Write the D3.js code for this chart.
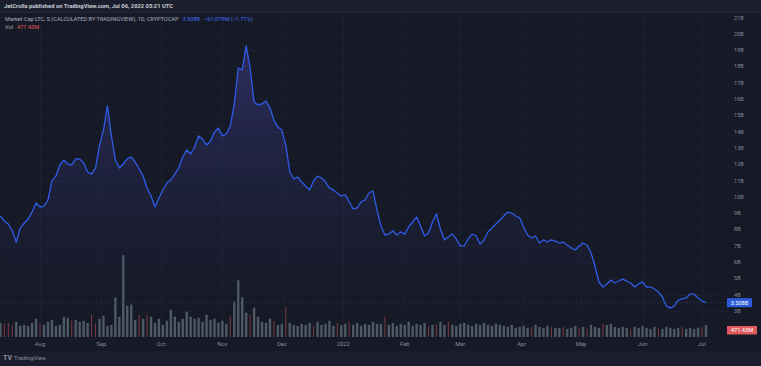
<!DOCTYPE html>
<html><head><meta charset="utf-8">
<script src="https://cdn.jsdelivr.net/npm/d3@7"></script>
<style>
html,body{margin:0;padding:0;background:#161a27;}
svg{display:block;font-family:Roboto,"DejaVu Sans",sans-serif;}
</style></head>
<body>
<svg id="chart" width="761" height="366"></svg>
<script>
// ---- data ----
const startDate = "2021-07-12";
const stepDays = 2;
// LTC market cap, billions USD, one reading every 2 days
const marketCapB = [
8.83,8.52,8.34,7.91,7.23,8.09,8.40,8.64,9.07,9.63,
9.38,9.44,9.81,10.98,11.28,11.96,12.26,12.02,11.96,12.33,
12.33,12.08,11.53,11.40,11.77,13.18,14.10,15.58,13.74,12.26,
11.77,12.02,12.33,12.45,12.14,11.71,11.28,10.55,10.06,9.38,
9.93,10.42,10.85,11.04,11.40,11.77,12.45,12.88,12.63,13.06,
13.74,13.55,13.18,13.43,13.98,14.23,13.74,13.86,14.35,15.70,
17.91,17.79,19.26,17.91,15.82,15.64,15.70,15.88,15.45,14.72,
14.29,14.10,13.18,11.53,11.10,11.22,10.91,10.67,10.42,10.98,
11.28,11.16,10.91,10.55,10.42,10.24,10.06,10.12,9.69,9.26,
9.32,9.69,9.81,10.24,10.36,9.20,8.21,7.66,7.72,7.91,
7.66,7.85,7.72,8.15,8.46,8.77,8.21,7.60,7.79,8.46,
8.95,8.03,7.36,7.54,7.72,7.42,6.99,6.99,7.42,7.72,
7.60,7.11,7.36,7.85,8.09,8.34,8.58,8.83,9.07,9.01,
8.83,8.71,8.15,7.66,7.48,7.60,7.17,7.36,7.23,7.36,
7.29,7.17,7.23,7.05,6.87,6.74,6.99,7.17,7.05,6.56,
5.76,4.78,4.47,4.66,4.90,4.72,4.84,4.96,4.84,4.72,
4.47,4.66,4.78,4.47,4.47,4.35,4.17,3.86,3.31,3.18,
3.31,3.67,3.74,3.80,4.04,4.04,3.80,3.61,3.51
];
// volume, millions USD, same dates
const volumeM = [
560,520,560,480,600,440,480,440,560,720,
520,480,600,680,440,480,800,760,640,680,
600,640,560,880,520,720,840,440,480,1560,
800,3240,1240,1280,680,880,720,880,800,560,
720,480,640,1080,800,600,720,1000,800,720,
760,600,880,680,720,560,640,520,800,1400,
2240,1560,960,880,1160,800,600,560,720,640,
480,520,1200,560,480,440,520,480,560,440,
600,480,520,640,440,560,480,520,600,480,
560,440,520,480,600,520,520,800,480,560,
440,520,480,600,440,520,480,560,440,480,
520,600,480,600,480,440,520,560,480,440,
520,480,560,480,440,520,480,440,400,480,
360,400,440,360,400,480,400,360,440,400,
360,360,400,320,360,440,360,400,320,480,
400,360,520,480,520,400,360,400,360,320,
400,360,440,360,320,400,360,320,400,360,
320,360,400,320,360,320,360,400,471
];
// indices of down-volume readings
const downIdx = [1,2,3,10,18,23,24,35,37,58,63,69,72,79,85,88,97,108,110,113,134,139,142,146,148,152,159,166,172,177];
const yTicks = [3,4,5,6,7,8,9,10,11,12,13,14,15,16,17,18,19,20,21];
const monthTicks = ["2021-08-01","2021-09-01","2021-10-01","2021-11-01","2021-12-01","2022-01-01","2022-02-01","2022-03-01","2022-04-01","2022-05-01","2022-06-01","2022-07-01"];
const monthLabels = ["Aug","Sep","Oct","Nov","Dec","2022","Feb","Mar","Apr","May","Jun","Jul"];
const headerText = "JetCrolla published on TradingView.com, Jul 06, 2022 05:21 UTC";
const titleText = "Market Cap LTC, S (CALCULATED BY TRADINGVIEW), 1D, CRYPTOCAP";
const lastText = "3.508B";
const changeText = "\u221261.079M (\u22121.71%)";
const volText = "471.43M";

// ---- build ----
const W = 761, H = 366;
const svg = d3.select("#chart");
const parse = d3.utcParse("%Y-%m-%d");
const t0 = parse(startDate);
const data = marketCapB.map((v,i)=>({date:d3.utcDay.offset(t0,i*stepDays), v, vol:volumeM[i], down:downIdx.includes(i)}));

const plotRight = 727;
const x = d3.scaleUtc().domain([t0, d3.utcDay.offset(t0,361)]).range([0.4, 0.4+361*1.982]);
const y = d3.scaleLinear().domain([3,21]).range([311,17.6]);
const yv = d3.scaleLinear().domain([0,3400]).range([337,251]);

// backgrounds
svg.append("rect").attr("width",W).attr("height",H).attr("fill","#161a27");
svg.append("rect").attr("width",W).attr("height",12).attr("fill","#1a1e2c");
svg.append("rect").attr("y",351).attr("width",W).attr("height",15).attr("fill","#1a1e2c");
svg.append("line").attr("x1",0).attr("x2",W).attr("y1",12.5).attr("y2",12.5).attr("stroke","#242938");

// grid
const grid = svg.append("g");
grid.selectAll("line.h").data(yTicks).join("line")
  .attr("x1",0).attr("x2",plotRight).attr("y1",d=>Math.round(y(d))+0.5).attr("y2",d=>Math.round(y(d))+0.5)
  .attr("stroke","#1b2030").attr("stroke-width",1);
grid.selectAll("line.v").data(monthTicks).join("line")
  .attr("x1",d=>Math.round(x(parse(d)))+0.5).attr("x2",d=>Math.round(x(parse(d)))+0.5)
  .attr("y1",13).attr("y2",338)
  .attr("stroke","#1b2030").attr("stroke-width",1);

// volume
const bw = 2.4;
svg.append("g").selectAll("rect").data(data.filter(d=>!d.down)).join("rect")
  .attr("x",d=>x(d.date)-bw/2).attr("width",bw)
  .attr("y",d=>yv(d.vol)).attr("height",d=>yv(0)-yv(d.vol))
  .attr("fill","#4d5964");
svg.append("g").selectAll("rect").data(data.filter(d=>d.down)).join("rect")
  .attr("x",d=>x(d.date)-0.5).attr("width",1)
  .attr("y",d=>yv(d.vol)).attr("height",d=>yv(0)-yv(d.vol))
  .attr("fill","#c2505a").attr("opacity",0.6);

// area gradient
const defs = svg.append("defs");
const grad = defs.append("linearGradient").attr("id","ag").attr("gradientUnits","userSpaceOnUse")
  .attr("x1",0).attr("x2",0).attr("y1",y(19.5)).attr("y2",y(3));
grad.append("stop").attr("offset",0).attr("stop-color","#4b45a8").attr("stop-opacity",0.45);
grad.append("stop").attr("offset",0.6).attr("stop-color","#3a3a86").attr("stop-opacity",0.16);
grad.append("stop").attr("offset",1).attr("stop-color","#2a2c60").attr("stop-opacity",0.0);

svg.append("path").datum(data)
  .attr("d",d3.area().x(d=>x(d.date)).y0(y(3)).y1(d=>y(d.v)))
  .attr("fill","url(#ag)");

// last value dotted line
const last = data[data.length-1];
svg.append("line").attr("x1",0).attr("x2",plotRight).attr("y1",y(last.v)).attr("y2",y(last.v))
  .attr("stroke","#2d3858").attr("stroke-dasharray","1,2").attr("stroke-width",1);

svg.append("path").datum(data)
  .attr("d",d3.line().x(d=>x(d.date)).y(d=>y(d.v)))
  .attr("fill","none").attr("stroke","#2f5ce8").attr("stroke-width",1.3).attr("stroke-linejoin","round");

// y axis labels
svg.append("g").selectAll("text").data(yTicks).join("text")
  .attr("x",734).attr("y",d=>y(d)).attr("dy","0.35em")
  .attr("font-size",5.6).attr("fill","#868b98")
  .text(d=>d+"B");

// last value label
svg.append("rect").attr("x",727).attr("y",y(last.v)-4.5).attr("width",25).attr("height",9).attr("fill","#2c5bd9");
svg.append("text").attr("x",739.5).attr("y",y(last.v)).attr("dy","0.35em").attr("text-anchor","middle")
  .attr("font-size",5.6).attr("fill","#ffffff").text(lastText);
// volume label
svg.append("rect").attr("x",727).attr("y",326).attr("width",30).attr("height",8.5).attr("fill","#e05a5f");
svg.append("text").attr("x",742).attr("y",330.3).attr("dy","0.35em").attr("text-anchor","middle")
  .attr("font-size",5.6).attr("fill","#ffffff").text(volText);

// x axis labels
svg.append("g").selectAll("text").data(monthTicks).join("text")
  .attr("x",d=>x(parse(d))).attr("y",344).attr("dy","0.35em").attr("text-anchor","middle")
  .attr("font-size",5.8).attr("fill","#868b98")
  .text((d,i)=>monthLabels[i]);

// header texts
svg.append("text").attr("x",4).attr("y",5.5).attr("dy","0.35em").attr("font-size",5.8)
  .attr("font-weight","bold").attr("fill","#c9ccd4").text(headerText);
const t2 = svg.append("text").attr("x",5).attr("y",19).attr("dy","0.35em").attr("font-size",5.6);
t2.append("tspan").attr("fill","#a9adb8").text(titleText);
t2.append("tspan").attr("fill","#3d6cf0").attr("dx",4).text(lastText);
t2.append("tspan").attr("fill","#3d6cf0").attr("dx",4).text(changeText);
const t3 = svg.append("text").attr("x",5).attr("y",27.5).attr("dy","0.35em").attr("font-size",5.6);
t3.append("tspan").attr("fill","#a9adb8").text("Vol");
t3.append("tspan").attr("fill","#e05a5f").attr("dx",4).text(volText);

// footer logo
const lg = svg.append("g");
lg.append("text").attr("x",3).attr("y",358).attr("dy","0.35em").attr("font-size",7).attr("font-weight","bold")
  .attr("fill","#8a8f9c").text("TV");
lg.append("text").attr("x",14).attr("y",358).attr("dy","0.35em").attr("font-size",5.8)
  .attr("fill","#8a8f9c").text("TradingView");
</script>
</body></html>
